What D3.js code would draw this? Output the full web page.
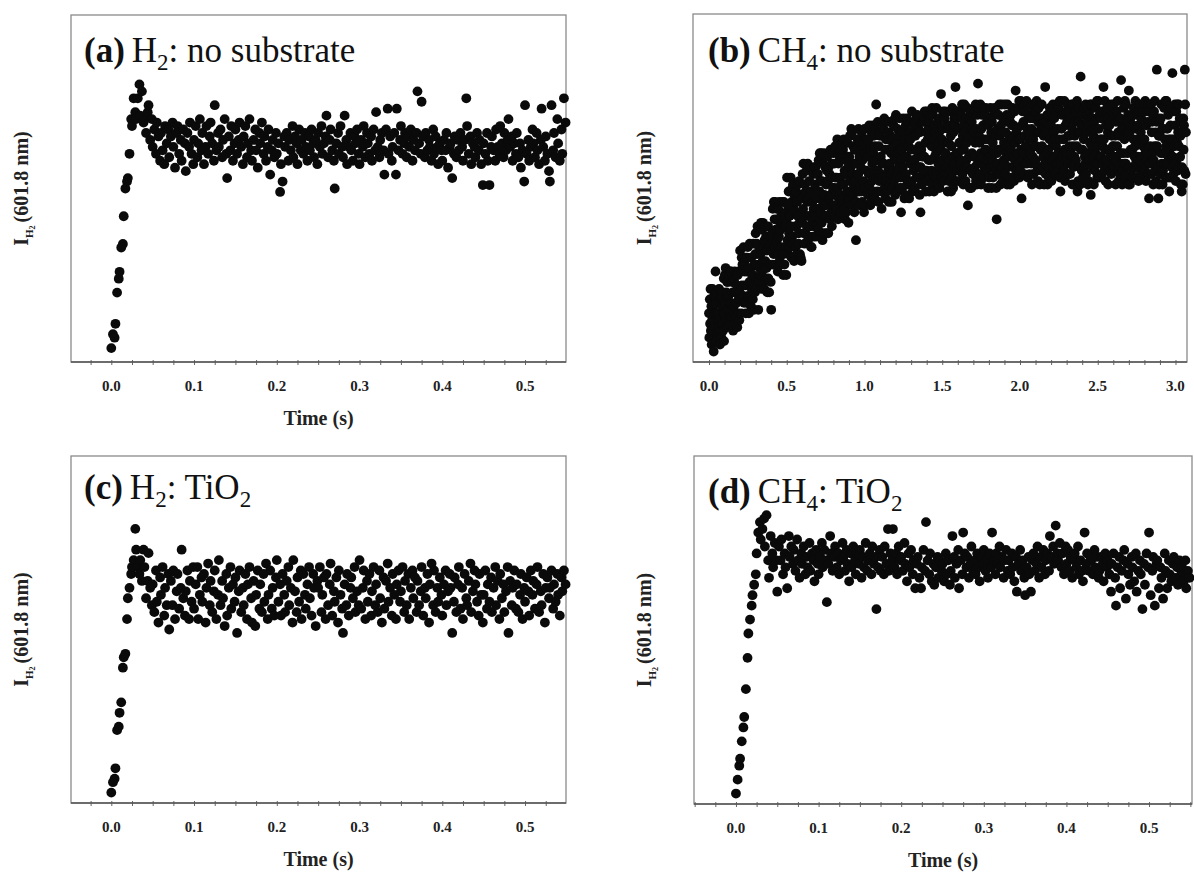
<!DOCTYPE html>
<html>
<head>
<meta charset="utf-8">
<script src="https://cdn.jsdelivr.net/npm/d3@7"></script>
<style>
  body { margin: 0; background: #fff; }
  text { font-family: "Liberation Serif", "Times New Roman", serif; }
</style>
</head>
<body>
<script>
// sample times (ms) shared by panels a, c, d
const timeMs = [
  0,2,4,5,7,9,10,12,14,15,17,19,20,22,24,25,27,29,30,32,34,35,37,39,40,42,44,45,47,49,
  50,52,54,55,57,59,60,62,64,65,67,69,70,72,74,75,77,79,80,82,84,85,87,89,90,92,94,95,97,99,
  100,102,104,105,107,109,110,112,114,115,117,119,120,122,124,125,127,129,130,132,134,135,137,139,140,142,144,145,147,149,
  150,152,154,155,157,159,160,162,164,165,167,169,170,172,174,175,177,179,180,182,184,185,187,189,190,192,194,195,197,199,
  200,202,204,205,207,209,210,212,214,215,217,219,220,222,224,225,227,229,230,232,234,235,237,239,240,242,244,245,247,249,
  250,252,254,255,257,259,260,262,264,265,267,269,270,272,274,275,277,279,280,282,284,285,287,289,290,292,294,295,297,299,
  300,302,304,305,307,309,310,312,314,315,317,319,320,322,324,325,327,329,330,332,334,335,337,339,340,342,344,345,347,349,
  350,352,354,355,357,359,360,362,364,365,367,369,370,372,374,375,377,379,380,382,384,385,387,389,390,392,394,395,397,399,
  400,402,404,405,407,409,410,412,414,415,417,419,420,422,424,425,427,429,430,432,434,435,437,439,440,442,444,445,447,449,
  450,452,454,455,457,459,460,462,464,465,467,469,470,472,474,475,477,479,480,482,484,485,487,489,490,492,494,495,497,499,
  500,502,504,505,507,509,510,512,514,515,517,519,520,522,524,525,527,529,530,532,534,535,537,539,540,542,544,545,547,549
];

// intensities on a 0-100 scale (0 = bottom axis, 100 = top of frame)
const h2Bare = [
  4,8,7,11,20,24, 26,33,34,42,50,52, 53,60,70,68,76,72, 70,76,80,71,78,69, 70,66,72,74,64,70,
  62,67,60,69,65,58, 66,61,57,68,63,67, 59,65,69,62,56,66, 68,60,64,58,67,63, 55,66,62,69,60,57,
  64,68,59,63,70,61, 66,57,62,68,60,65, 69,63,58,74,61,66, 62,67,59,64,70,60, 53,65,61,68,58,63,
  67,60,64,69,62,57, 65,68,59,63,70,61, 58,64,67,61,56,66, 63,69,60,65,58,62, 67,54,61,64,59,66,
  60,63,49,57,52,65, 62,66,58,64,61,68, 59,65,63,57,67,61, 64,60,66,62,58,65, 61,67,63,59,64,57,
  66,62,68,60,63,65, 71,59,64,67,61,58, 50,63,66,60,68,62, 59,71,64,57,62,66, 61,58,65,63,67,60,
  57,64,62,68,59,66, 63,60,65,58,67,61, 72,62,59,64,66,61, 54,67,73,60,65,58, 62,66,54,73,61,64,
  68,60,63,66,59,65, 62,67,58,64,61,66, 78,63,60,75,65,59, 66,61,64,62,58,67, 60,65,62,57,63,61,
  58,64,61,66,56,62, 63,53,60,65,59,64, 61,66,62,58,64,76, 68,60,65,57,63,62, 59,66,61,64,57,51,
  63,60,66,58,51,62, 65,61,58,67,62,60, 68,63,59,66,61,64, 70,62,65,58,63,60, 66,59,63,56,61,52,
  74,60,64,58,62,67, 63,59,66,61,57,64, 73,62,58,65,60,55, 52,74,61,66,59,70, 63,58,67,60,76,69
];

const h2TiO2 = [
  3,6,7,10,21,22, 26,29,39,42,43,53, 59,62,66,68,70,79, 73,68,66,70,64,73, 68,59,64,72,62,57,
  63,55,67,58,52,65, 60,68,54,62,57,66, 50,64,57,67,53,61, 66,56,62,73,59,54, 61,67,53,64,58,68,
  56,63,68,53,60,65, 58,66,52,62,69,57, 64,55,61,67,53,60, 70,57,64,59,51,66, 54,62,68,56,63,58,
  65,49,61,67,55,62, 57,66,53,63,68,59, 52,64,51,60,67,56, 63,55,66,58,69,53, 60,67,56,62,54,65,
  70,58,63,54,66,60, 55,64,68,57,62,52, 70,61,55,65,58,67, 53,66,60,56,63,68, 59,54,66,62,51,64,
  62,68,55,60,65,53, 66,57,63,69,54,61, 58,65,52,67,60,56, 49,63,57,66,54,62, 65,59,68,55,61,57,
  70,56,62,67,53,64, 58,66,54,61,68,57, 63,55,67,59,52,65, 56,64,69,58,62,54, 66,60,53,63,67,58,
  61,68,55,64,57,66, 53,62,67,59,65,55, 64,57,61,68,54,62, 59,66,52,63,69,57, 67,55,62,58,65,60,
  54,63,67,57,61,66, 62,49,58,65,55,63, 68,56,62,53,66,59, 57,64,69,55,61,67, 63,58,54,66,60,52,
  60,67,56,63,58,65, 55,62,68,57,64,53, 66,59,63,55,61,68, 49,64,57,62,67,56, 63,55,60,66,53,62,
  58,65,61,54,67,60, 64,56,63,68,55,61, 57,66,52,62,65,59, 62,67,56,63,58,66, 60,54,65,61,67,63
];

const ch4TiO2 = [
  3,7,11,13,18,22, 25,33,42,49,53,57, 60,63,66,72,78,81, 76,79,82,74,83,70, 65,77,72,68,75,70,
  61,74,70,76,66,72, 68,62,77,71,74,69, 73,67,76,70,65,72, 69,74,66,71,68,75, 67,72,70,64,73,69,
  66,71,75,68,73,70, 58,69,77,72,67,71, 74,68,72,66,70,75, 71,67,73,69,64,72, 68,74,70,66,72,69,
  73,65,71,68,75,67, 70,72,66,74,69,71, 56,68,73,67,71,66, 74,69,79,67,72,70, 79,68,72,66,74,70,
  71,67,75,69,64,72, 68,73,66,70,62,69, 71,65,62,68,73,67, 81,70,66,72,64,69, 63,68,71,65,70,67,
  69,64,72,66,70,63, 67,77,71,65,69,73, 62,70,66,78,72,68, 71,65,69,74,67,70, 66,72,68,64,71,69,
  73,67,70,65,72,68, 78,70,66,72,69,74, 68,71,65,70,73,67, 70,66,72,68,64,71, 61,69,73,67,70,65,
  60,68,71,66,61,70, 72,67,69,74,65,71, 68,73,66,70,72,67, 77,71,74,69,80,72, 70,75,68,72,66,74,
  69,73,67,71,65,70, 72,68,74,66,70,67, 64,78,69,72,67,71, 70,66,73,68,71,65, 67,71,69,64,72,68,
  70,66,61,69,72,65, 57,68,71,62,67,70, 73,59,69,66,63,71, 68,64,72,61,67,70, 66,56,69,63,72,68,
  78,60,67,71,57,69, 70,62,68,65,59,72, 67,62,70,66,64,69, 71,65,68,63,70,66, 68,64,70,62,67,65
];

// panel b: longer record, four samples every 10 ms
const timeMsLong = [
  0,2,5,7,10,12,15,17,20,22,25,27,30,32,35,37,40,42,45,47,50,52,55,57,60,62,65,67,70,72,75,77,80,82,85,87,90,92,95,97,
  100,102,105,107,110,112,115,117,120,122,125,127,130,132,135,137,140,142,145,147,150,152,155,157,160,162,165,167,170,172,175,177,180,182,185,187,190,192,195,197,
  200,202,205,207,210,212,215,217,220,222,225,227,230,232,235,237,240,242,245,247,250,252,255,257,260,262,265,267,270,272,275,277,280,282,285,287,290,292,295,297,
  300,302,305,307,310,312,315,317,320,322,325,327,330,332,335,337,340,342,345,347,350,352,355,357,360,362,365,367,370,372,375,377,380,382,385,387,390,392,395,397,
  400,402,405,407,410,412,415,417,420,422,425,427,430,432,435,437,440,442,445,447,450,452,455,457,460,462,465,467,470,472,475,477,480,482,485,487,490,492,495,497,
  500,502,505,507,510,512,515,517,520,522,525,527,530,532,535,537,540,542,545,547,550,552,555,557,560,562,565,567,570,572,575,577,580,582,585,587,590,592,595,597,
  600,602,605,607,610,612,615,617,620,622,625,627,630,632,635,637,640,642,645,647,650,652,655,657,660,662,665,667,670,672,675,677,680,682,685,687,690,692,695,697,
  700,702,705,707,710,712,715,717,720,722,725,727,730,732,735,737,740,742,745,747,750,752,755,757,760,762,765,767,770,772,775,777,780,782,785,787,790,792,795,797,
  800,802,805,807,810,812,815,817,820,822,825,827,830,832,835,837,840,842,845,847,850,852,855,857,860,862,865,867,870,872,875,877,880,882,885,887,890,892,895,897,
  900,902,905,907,910,912,915,917,920,922,925,927,930,932,935,937,940,942,945,947,950,952,955,957,960,962,965,967,970,972,975,977,980,982,985,987,990,992,995,997,
  1000,1002,1005,1007,1010,1012,1015,1017,1020,1022,1025,1027,1030,1032,1035,1037,1040,1042,1045,1047,1050,1052,1055,1057,1060,1062,1065,1067,1070,1072,1075,1077,1080,1082,1085,1087,1090,1092,1095,1097,
  1100,1102,1105,1107,1110,1112,1115,1117,1120,1122,1125,1127,1130,1132,1135,1137,1140,1142,1145,1147,1150,1152,1155,1157,1160,1162,1165,1167,1170,1172,1175,1177,1180,1182,1185,1187,1190,1192,1195,1197,
  1200,1202,1205,1207,1210,1212,1215,1217,1220,1222,1225,1227,1230,1232,1235,1237,1240,1242,1245,1247,1250,1252,1255,1257,1260,1262,1265,1267,1270,1272,1275,1277,1280,1282,1285,1287,1290,1292,1295,1297,
  1300,1302,1305,1307,1310,1312,1315,1317,1320,1322,1325,1327,1330,1332,1335,1337,1340,1342,1345,1347,1350,1352,1355,1357,1360,1362,1365,1367,1370,1372,1375,1377,1380,1382,1385,1387,1390,1392,1395,1397,
  1400,1402,1405,1407,1410,1412,1415,1417,1420,1422,1425,1427,1430,1432,1435,1437,1440,1442,1445,1447,1450,1452,1455,1457,1460,1462,1465,1467,1470,1472,1475,1477,1480,1482,1485,1487,1490,1492,1495,1497,
  1500,1502,1505,1507,1510,1512,1515,1517,1520,1522,1525,1527,1530,1532,1535,1537,1540,1542,1545,1547,1550,1552,1555,1557,1560,1562,1565,1567,1570,1572,1575,1577,1580,1582,1585,1587,1590,1592,1595,1597,
  1600,1602,1605,1607,1610,1612,1615,1617,1620,1622,1625,1627,1630,1632,1635,1637,1640,1642,1645,1647,1650,1652,1655,1657,1660,1662,1665,1667,1670,1672,1675,1677,1680,1682,1685,1687,1690,1692,1695,1697,
  1700,1702,1705,1707,1710,1712,1715,1717,1720,1722,1725,1727,1730,1732,1735,1737,1740,1742,1745,1747,1750,1752,1755,1757,1760,1762,1765,1767,1770,1772,1775,1777,1780,1782,1785,1787,1790,1792,1795,1797,
  1800,1802,1805,1807,1810,1812,1815,1817,1820,1822,1825,1827,1830,1832,1835,1837,1840,1842,1845,1847,1850,1852,1855,1857,1860,1862,1865,1867,1870,1872,1875,1877,1880,1882,1885,1887,1890,1892,1895,1897,
  1900,1902,1905,1907,1910,1912,1915,1917,1920,1922,1925,1927,1930,1932,1935,1937,1940,1942,1945,1947,1950,1952,1955,1957,1960,1962,1965,1967,1970,1972,1975,1977,1980,1982,1985,1987,1990,1992,1995,1997,
  2000,2002,2005,2007,2010,2012,2015,2017,2020,2022,2025,2027,2030,2032,2035,2037,2040,2042,2045,2047,2050,2052,2055,2057,2060,2062,2065,2067,2070,2072,2075,2077,2080,2082,2085,2087,2090,2092,2095,2097,
  2100,2102,2105,2107,2110,2112,2115,2117,2120,2122,2125,2127,2130,2132,2135,2137,2140,2142,2145,2147,2150,2152,2155,2157,2160,2162,2165,2167,2170,2172,2175,2177,2180,2182,2185,2187,2190,2192,2195,2197,
  2200,2202,2205,2207,2210,2212,2215,2217,2220,2222,2225,2227,2230,2232,2235,2237,2240,2242,2245,2247,2250,2252,2255,2257,2260,2262,2265,2267,2270,2272,2275,2277,2280,2282,2285,2287,2290,2292,2295,2297,
  2300,2302,2305,2307,2310,2312,2315,2317,2320,2322,2325,2327,2330,2332,2335,2337,2340,2342,2345,2347,2350,2352,2355,2357,2360,2362,2365,2367,2370,2372,2375,2377,2380,2382,2385,2387,2390,2392,2395,2397,
  2400,2402,2405,2407,2410,2412,2415,2417,2420,2422,2425,2427,2430,2432,2435,2437,2440,2442,2445,2447,2450,2452,2455,2457,2460,2462,2465,2467,2470,2472,2475,2477,2480,2482,2485,2487,2490,2492,2495,2497,
  2500,2502,2505,2507,2510,2512,2515,2517,2520,2522,2525,2527,2530,2532,2535,2537,2540,2542,2545,2547,2550,2552,2555,2557,2560,2562,2565,2567,2570,2572,2575,2577,2580,2582,2585,2587,2590,2592,2595,2597,
  2600,2602,2605,2607,2610,2612,2615,2617,2620,2622,2625,2627,2630,2632,2635,2637,2640,2642,2645,2647,2650,2652,2655,2657,2660,2662,2665,2667,2670,2672,2675,2677,2680,2682,2685,2687,2690,2692,2695,2697,
  2700,2702,2705,2707,2710,2712,2715,2717,2720,2722,2725,2727,2730,2732,2735,2737,2740,2742,2745,2747,2750,2752,2755,2757,2760,2762,2765,2767,2770,2772,2775,2777,2780,2782,2785,2787,2790,2792,2795,2797,
  2800,2802,2805,2807,2810,2812,2815,2817,2820,2822,2825,2827,2830,2832,2835,2837,2840,2842,2845,2847,2850,2852,2855,2857,2860,2862,2865,2867,2870,2872,2875,2877,2880,2882,2885,2887,2890,2892,2895,2897,
  2900,2902,2905,2907,2910,2912,2915,2917,2920,2922,2925,2927,2930,2932,2935,2937,2940,2942,2945,2947,2950,2952,2955,2957,2960,2962,2965,2967,2970,2972,2975,2977,2980,2982,2985,2987,2990,2992,2995,2997,
  3000,3002,3005,3007,3010,3012,3015,3017,3020,3022,3025,3027,3030,3032,3035,3037,3040,3042,3045,3047,3050,3052,3055,3057,3060,3062,3065,3067
];

const ch4Bare = [
  14,7,18,11,21,9,16,5, 12,21,9,16,3,19,10,14, 19,26,6,17,14,20,8,10, 14,7,21,12,5,17,9,19, 7,16,11,20,9,14,24,6,
  14,25,17,27,12,20,10,23, 23,15,19,11,25,17,13,26, 26,17,13,23,15,20,9,23, 16,23,26,11,20,13,25,17, 22,10,25,14,18,26,12,20,
  32,18,26,14,30,22,28,18, 19,33,17,26,29,22,30,14, 26,17,30,22,33,19,27,14, 23,34,19,27,16,30,21,25, 25,18,34,22,15,28,20,31,
  37,28,21,34,31,39,24,15, 23,33,27,39,25,31,40,21, 26,38,29,40,23,33,21,35, 39,29,24,36,27,32,20,35, 39,24,33,20,36,28,34,23,
  15,32,37,28,44,35,31,46, 33,41,46,28,38,31,44,35, 41,26,44,31,36,46,29,39, 38,28,42,33,46,31,40,25, 31,46,28,39,41,33,43,25,
  40,53,35,45,31,49,37,42, 42,33,53,39,30,46,36,50, 51,34,44,29,48,39,46,33, 49,39,31,46,42,51,34,37, 52,40,31,48,30,43,29,47,
  40,54,44,57,37,48,34,51, 37,49,42,55,39,46,57,35, 47,36,52,42,56,39,49,33, 33,41,46,36,54,44,39,56, 42,51,56,36,47,39,54,44,
  54,38,58,44,49,60,41,52, 43,60,40,52,35,46,57,37, 60,48,42,56,45,51,37,55, 59,42,52,37,56,47,54,41, 48,61,43,53,39,57,45,50,
  60,50,42,57,53,62,45,48, 53,44,64,50,41,57,47,61, 59,48,53,43,61,51,46,63, 47,61,51,64,44,55,41,58, 54,43,59,49,63,46,56,40,
  47,59,52,65,49,56,67,45, 66,54,48,62,51,57,43,61, 52,61,35,46,57,49,64,54, 54,67,49,59,45,63,51,56, 49,66,46,58,61,52,63,43,
  67,50,60,45,64,55,62,49, 59,48,64,54,68,51,61,45, 62,46,66,52,57,68,49,60, 65,55,47,62,58,67,74,53, 58,49,69,55,46,62,52,66,
  65,54,59,49,44,57,52,69, 53,67,57,70,50,61,47,64, 52,69,49,61,64,55,66,46, 69,57,51,65,54,60,46,64, 50,62,55,68,52,59,70,48,
  58,71,53,63,49,67,55,60, 56,65,70,50,61,53,43,58, 61,50,66,56,70,53,63,47, 64,48,68,54,59,70,51,62, 69,52,62,47,66,57,64,51,
  61,52,72,58,49,65,55,69, 68,58,50,65,61,70,53,56, 71,59,53,67,56,62,48,66, 43,56,61,51,69,59,54,71, 55,69,59,72,52,63,49,66,
  55,72,52,64,67,58,69,49, 53,65,58,71,55,62,73,51, 71,54,64,49,68,59,66,53, 60,73,55,65,51,69,57,62, 66,50,70,56,61,77,53,64,
  58,67,72,52,63,55,70,60, 72,60,54,68,57,63,49,67, 63,52,68,58,72,55,65,49, 62,53,73,59,50,66,56,70, 68,57,79,52,70,60,55,72,
  70,60,52,67,63,72,55,58, 57,71,61,74,54,65,51,68, 61,74,56,66,52,70,58,63, 56,73,45,65,68,59,70,50, 72,55,65,50,69,60,67,54,
  54,66,59,72,56,63,74,52, 67,51,71,57,80,73,54,65, 63,54,74,60,51,67,57,71, 59,68,73,53,64,56,71,61, 73,61,55,69,58,64,50,68,
  64,53,69,59,73,56,66,50, 69,58,63,53,71,61,56,73, 72,55,65,50,41,60,67,54, 57,71,61,74,54,65,51,68, 61,74,56,66,52,70,58,63,
  57,74,54,66,69,60,71,51, 74,62,56,70,59,65,51,69, 71,61,53,68,64,73,56,59, 68,52,72,58,63,78,55,66, 55,67,60,73,57,64,75,53,
  64,55,75,61,47,68,58,72, 60,69,74,54,65,57,72,62, 62,75,57,67,53,71,59,64, 65,54,70,60,74,57,67,51, 70,59,64,54,72,62,57,74,
  58,72,62,75,55,66,52,69, 73,56,66,51,70,61,68,55, 74,62,56,70,59,65,51,69, 57,79,54,66,69,60,71,51, 71,61,53,68,64,73,56,59,
  68,52,72,58,63,74,55,66, 70,59,64,54,72,62,57,74, 55,67,60,73,57,64,75,53, 49,75,57,67,53,71,59,64, 64,55,75,61,52,68,58,72,
  60,69,74,54,65,57,72,62, 65,54,70,60,74,57,67,51, 74,62,56,70,59,65,51,69, 58,72,62,75,49,66,52,69, 73,56,66,51,82,61,68,55,
  71,61,53,68,64,73,56,59, 57,74,54,66,69,60,71,51, 68,52,72,58,63,74,48,66, 74,62,56,70,59,65,51,69, 55,67,60,73,57,64,75,53,
  62,75,57,67,53,71,59,64, 70,59,64,54,72,62,57,79, 64,55,75,61,52,68,58,72, 73,56,66,51,70,61,68,55, 60,69,74,54,65,57,72,62,
  74,62,56,70,59,65,51,69, 58,72,62,75,55,66,52,69, 65,54,70,60,81,57,67,51, 55,67,60,73,57,64,75,53, 57,74,54,66,69,60,71,51,
  78,56,66,51,70,61,68,55, 71,61,53,68,64,73,56,59, 62,75,57,67,53,71,59,64, 68,52,72,58,63,74,55,66, 70,59,64,54,72,62,57,74,
  64,55,75,61,52,68,58,72, 60,69,74,54,47,57,72,62, 57,74,54,66,69,60,71,51, 58,72,62,75,55,66,52,69, 84,62,56,70,47,65,51,69,
  65,54,70,60,74,57,67,51, 55,67,60,73,57,64,75,53, 62,75,57,67,53,71,59,64, 49,61,53,68,64,73,56,59, 83,59,64,54,72,62,57,74,
  68,52,72,58,63,74,55,66, 74,62,56,70,59,65,51,69, 49,56,66,51,70,61,68,55, 84,74,54,66
];

const shortTicks = [0, 0.1, 0.2, 0.3, 0.4, 0.5];
const longTicks = [0, 0.5, 1.0, 1.5, 2.0, 2.5, 3.0];

const svg = d3
  .select("body")
  .append("svg")
  .attr("width", 1194)
  .attr("height", 876);

const panels = [
  { tag: "(a)", gas: "H", sub: "2", rest: ": no substrate", times: timeMs, values: h2Bare,
    ticks: shortTicks, minor: d3.range(-1, 22).map((i) => i * 0.025),
    left: 71, right: 566, top: 15, bottom: 362, domain: [-0.0487, 0.5495],
    titleX: 84, titleY: 62, labelX: 28, showTime: true },
  { tag: "(b)", gas: "CH", sub: "4", rest: ": no substrate", times: timeMsLong, values: ch4Bare,
    ticks: longTicks, minor: d3.range(0, 31).map((i) => i / 10),
    left: 693, right: 1187, top: 14, bottom: 362, domain: [-0.1029, 3.074],
    titleX: 708, titleY: 62, labelX: 651, showTime: false },
  { tag: "(c)", gas: "H", sub: "2", rest: ": TiO", sub2: "2", times: timeMs, values: h2TiO2,
    ticks: shortTicks, minor: d3.range(-1, 22).map((i) => i * 0.025),
    left: 71, right: 566, top: 456, bottom: 803, domain: [-0.0487, 0.5495],
    titleX: 84, titleY: 499, labelX: 28, showTime: true },
  { tag: "(d)", gas: "CH", sub: "4", rest: ": TiO", sub2: "2", times: timeMs, values: ch4TiO2,
    ticks: shortTicks, minor: d3.range(-2, 23).map((i) => i * 0.025),
    left: 694, right: 1192, top: 456, bottom: 804, domain: [-0.0508, 0.552],
    titleX: 708, titleY: 503, labelX: 651, showTime: true },
];

panels.forEach(function (p) {
  const x = d3.scaleLinear().domain(p.domain).range([p.left, p.right]);
  const y = d3.scaleLinear().domain([0, 100]).range([p.bottom, p.top]);
  const g = svg.append("g");

  // frame
  g.append("rect")
    .attr("x", p.left)
    .attr("y", p.top)
    .attr("width", p.right - p.left)
    .attr("height", p.bottom - p.top)
    .attr("fill", "none")
    .attr("stroke", "#8a8a8a")
    .attr("stroke-width", 1.3);

  // minor ticks
  const axis = g
    .append("g")
    .attr("transform", "translate(0," + p.bottom + ")")
    .call(
      d3.axisBottom(x)
        .tickValues(p.minor.filter((v) => v >= p.domain[0] && v <= p.domain[1]))
        .tickSize(3)
        .tickFormat("")
    );
  axis.select(".domain").remove();
  axis.selectAll(".tick line").attr("y1", -2).attr("stroke", "#666");

  g.append("line")
    .attr("x1", p.left)
    .attr("x2", p.right)
    .attr("y1", p.bottom)
    .attr("y2", p.bottom)
    .attr("stroke", "#555")
    .attr("stroke-width", 1.6);

  // tick labels
  g.selectAll(".tl")
    .data(p.ticks)
    .enter()
    .append("text")
    .attr("class", "tl")
    .attr("x", (d) => x(d))
    .attr("y", p.bottom + 29)
    .attr("text-anchor", "middle")
    .style("font-size", "15px")
    .style("font-weight", "bold")
    .attr("fill", "#222")
    .text((d) => d3.format(".1f")(d));

  // points
  g.append("g")
    .selectAll("circle")
    .data(d3.zip(p.times, p.values))
    .enter()
    .append("circle")
    .attr("cx", (d) => x(d[0] / 1000))
    .attr("cy", (d) => y(d[1]))
    .attr("r", 4.9)
    .attr("fill", "#0a0a0a");

  // panel title
  const t = g
    .append("text")
    .attr("x", p.titleX)
    .attr("y", p.titleY)
    .style("font-size", "35px")
    .attr("fill", "#111");
  t.append("tspan").style("font-weight", "bold").text(p.tag);
  t.append("tspan").attr("dx", 7).text(p.gas);
  t.append("tspan").attr("dy", 8).style("font-size", "23px").text(p.sub);
  t.append("tspan").attr("dy", -8).text(p.rest);
  if (p.sub2) {
    t.append("tspan").attr("dy", 8).style("font-size", "23px").text(p.sub2);
  }

  // y label
  const yl = g
    .append("text")
    .attr("transform", "translate(" + p.labelX + "," + (p.top + p.bottom) / 2 + ") rotate(-90)")
    .attr("text-anchor", "middle")
    .style("font-size", "20px")
    .style("font-weight", "bold")
    .attr("fill", "#222");
  yl.append("tspan").text("I");
  yl.append("tspan").attr("dy", 5).style("font-size", "11px").text("H");
  yl.append("tspan").attr("dy", 2).style("font-size", "8px").text("2");
  yl.append("tspan").attr("dy", -7).attr("dx", 3).text("(601.8 nm)");

  if (p.showTime) {
    g.append("text")
      .attr("x", (p.left + p.right) / 2)
      .attr("y", p.bottom + 63)
      .attr("text-anchor", "middle")
      .style("font-size", "20px")
      .style("font-weight", "bold")
      .attr("fill", "#222")
      .text("Time (s)");
  }
});
</script>
</body>
</html>
